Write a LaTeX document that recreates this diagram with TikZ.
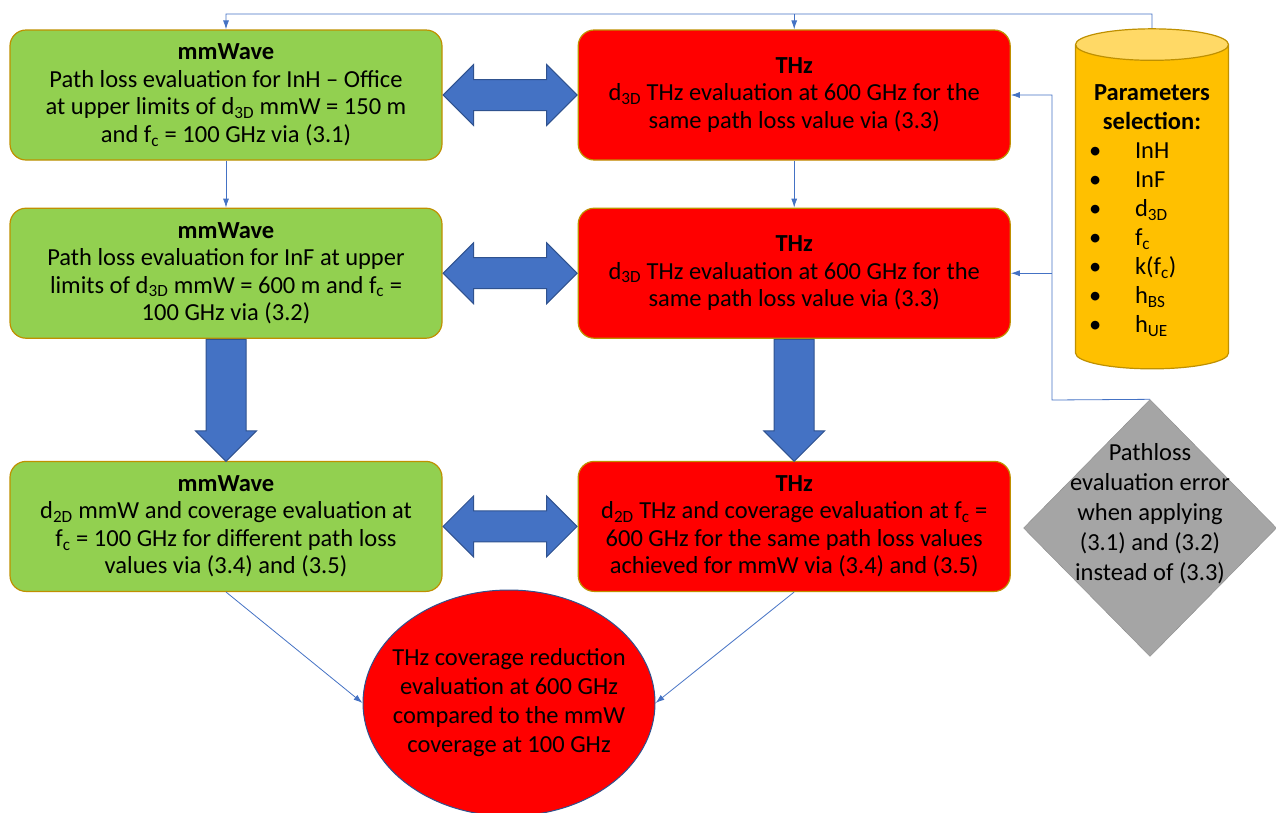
\documentclass[tikz,border=0pt]{standalone}
\usepackage{fontspec}
\setmainfont{Carlito}
\usetikzlibrary{arrows.meta,positioning,calc,shapes.geometric,shapes.arrows}
\definecolor{mmgreen}{HTML}{92D050}
\definecolor{thzred}{HTML}{FF0000}
\definecolor{gold}{HTML}{BF9000}
\definecolor{parorange}{HTML}{FFC000}
\definecolor{parlight}{HTML}{FFD966}
\definecolor{blockblue}{HTML}{4472C4}
\definecolor{darkblue}{HTML}{2F528F}
\definecolor{errgray}{HTML}{A5A5A5}
\definecolor{errline}{HTML}{8C8C8C}

\begin{document}
\begin{tikzpicture}[x=1pt,y=-1pt,node distance=47pt and 135pt,
 font=\fontsize{24.5}{27.5}\selectfont,
 box/.style={draw=gold,line width=1.2pt,rounded corners=16pt,align=center,minimum width=432pt,minimum height=130pt,inner sep=0pt},
 gbox/.style={box,fill=mmgreen},
 rbox/.style={box,fill=thzred},
 inlabel/.style={align=center,font=\fontsize{24.5}{#1}\selectfont},
 dbl/.style={double arrow,draw=darkblue,fill=blockblue,line width=1pt,minimum height=134pt,minimum width=60pt,double arrow head extend=15pt,inner sep=15pt},
 sgl/.style={single arrow,draw=darkblue,fill=blockblue,line width=1pt,minimum height=122pt,minimum width=60pt,single arrow head extend=10.5pt,shape border rotate=270,inner sep=19.5pt,anchor=tail},
 conn/.style={-{Latex[length=9pt,width=6pt]},draw=blockblue,line width=0.8pt}]
\useasboundingbox (0,0) rectangle (1276,812);
\node[gbox] (m1) at (226,95) {\textbf{mmWave}\\Path loss evaluation for InH -- Office\\at upper limits of d\textsubscript{3D} mmW = 150 m\\and f\textsubscript{c} = 100 GHz via (3.1)};
\node[rbox,right=of m1] (r1) {\textbf{THz}\\d\textsubscript{3D} THz evaluation at 600 GHz for the\\same path loss value via (3.3)};
\node[gbox,below=of m1] (m2) {\textbf{mmWave}\\Path loss evaluation for InF at upper\\limits of d\textsubscript{3D} mmW = 600 m and f\textsubscript{c} =\\100 GHz via (3.2)};
\node[rbox,right=of m2] (r2) {\textbf{THz}\\d\textsubscript{3D} THz evaluation at 600 GHz for the\\same path loss value via (3.3)};
\node[gbox,below=122pt of m2] (m3) {\textbf{mmWave}\\d\textsubscript{2D} mmW and coverage evaluation at\\f\textsubscript{c} = 100 GHz for different path loss\\values via (3.4) and (3.5)};
\node[rbox,right=of m3] (r3) {\textbf{THz}\\d\textsubscript{2D} THz and coverage evaluation at f\textsubscript{c} =\\600 GHz for the same path loss values\\achieved for mmW via (3.4) and (3.5)};
\node[ellipse,draw=darkblue,fill=thzred,line width=1pt,minimum width=292pt,minimum height=226pt,inner sep=0pt,
 label={[inlabel=29]center:{THz coverage reduction\\evaluation at 600 GHz\\compared to the mmW\\coverage at 100 GHz}}] (red) at (509,703) {};
\node[cylinder,shape border rotate=90,aspect=0.25,draw=gold,line width=1.2pt,cylinder uses custom fill,cylinder body fill=parorange,cylinder end fill=parlight,minimum width=153pt,minimum height=340pt,inner sep=0pt,font=\fontsize{24.5}{29}\selectfont] (par) at (1152,207)
 {\raisebox{-4pt}[\height][\depth]{\begin{tabular}{@{}p{46pt}@{}p{80pt}@{}}
 \multicolumn{2}{c}{\makebox[0pt]{\textbf{Parameters}}}\\
 \multicolumn{2}{c}{\makebox[0pt]{\textbf{selection:}}}\\
 \textbullet & InH\\
 \textbullet & InF\\
 \textbullet & d\textsubscript{3D}\\
 \textbullet & f\textsubscript{c}\\
 \textbullet & k(f\textsubscript{c})\\
 \textbullet & h\textsubscript{BS}\\
 \textbullet & h\textsubscript{UE}
 \end{tabular}}};
\node[diamond,draw=errline,fill=errgray,minimum width=253pt,minimum height=257pt,inner sep=0pt,
 label={[inlabel=30,yshift=14pt]center:{Pathloss\\evaluation error\\when applying\\(3.1) and (3.2)\\instead of (3.3)}}] (err) at (1150,528) {};
% block arrows
\node[dbl] (a1) at ($(m1.east)!.5!(r1.west)$) {};
\node[dbl] (a2) at ($(m2.east)!.5!(r2.west)$) {};
\node[dbl] (a3) at ($(m3.east)!.5!(r3.west)$) {};
\node[sgl] (d1) at (m2.south) {};
\node[sgl] (d2) at (r2.south) {};
% thin connectors
\coordinate (top) at (1152,14);
\coordinate (fb) at (1052,400);
\draw[conn] (par.north) -- (top) -| (m1.north);
\draw[conn] (top -| r1.north) -- (r1.north);
\draw[conn] (m1) -- (m2);
\draw[conn] (r1) -- (r2);
\draw[conn] (err.north) -- (fb) |- (r1.east);
\draw[conn] (fb |- r2.east) -- (r2.east);
\draw[conn] (m3.south) -- (red.west);
\draw[conn] (r3.south) -- (red.east);
\end{tikzpicture}
\end{document}
